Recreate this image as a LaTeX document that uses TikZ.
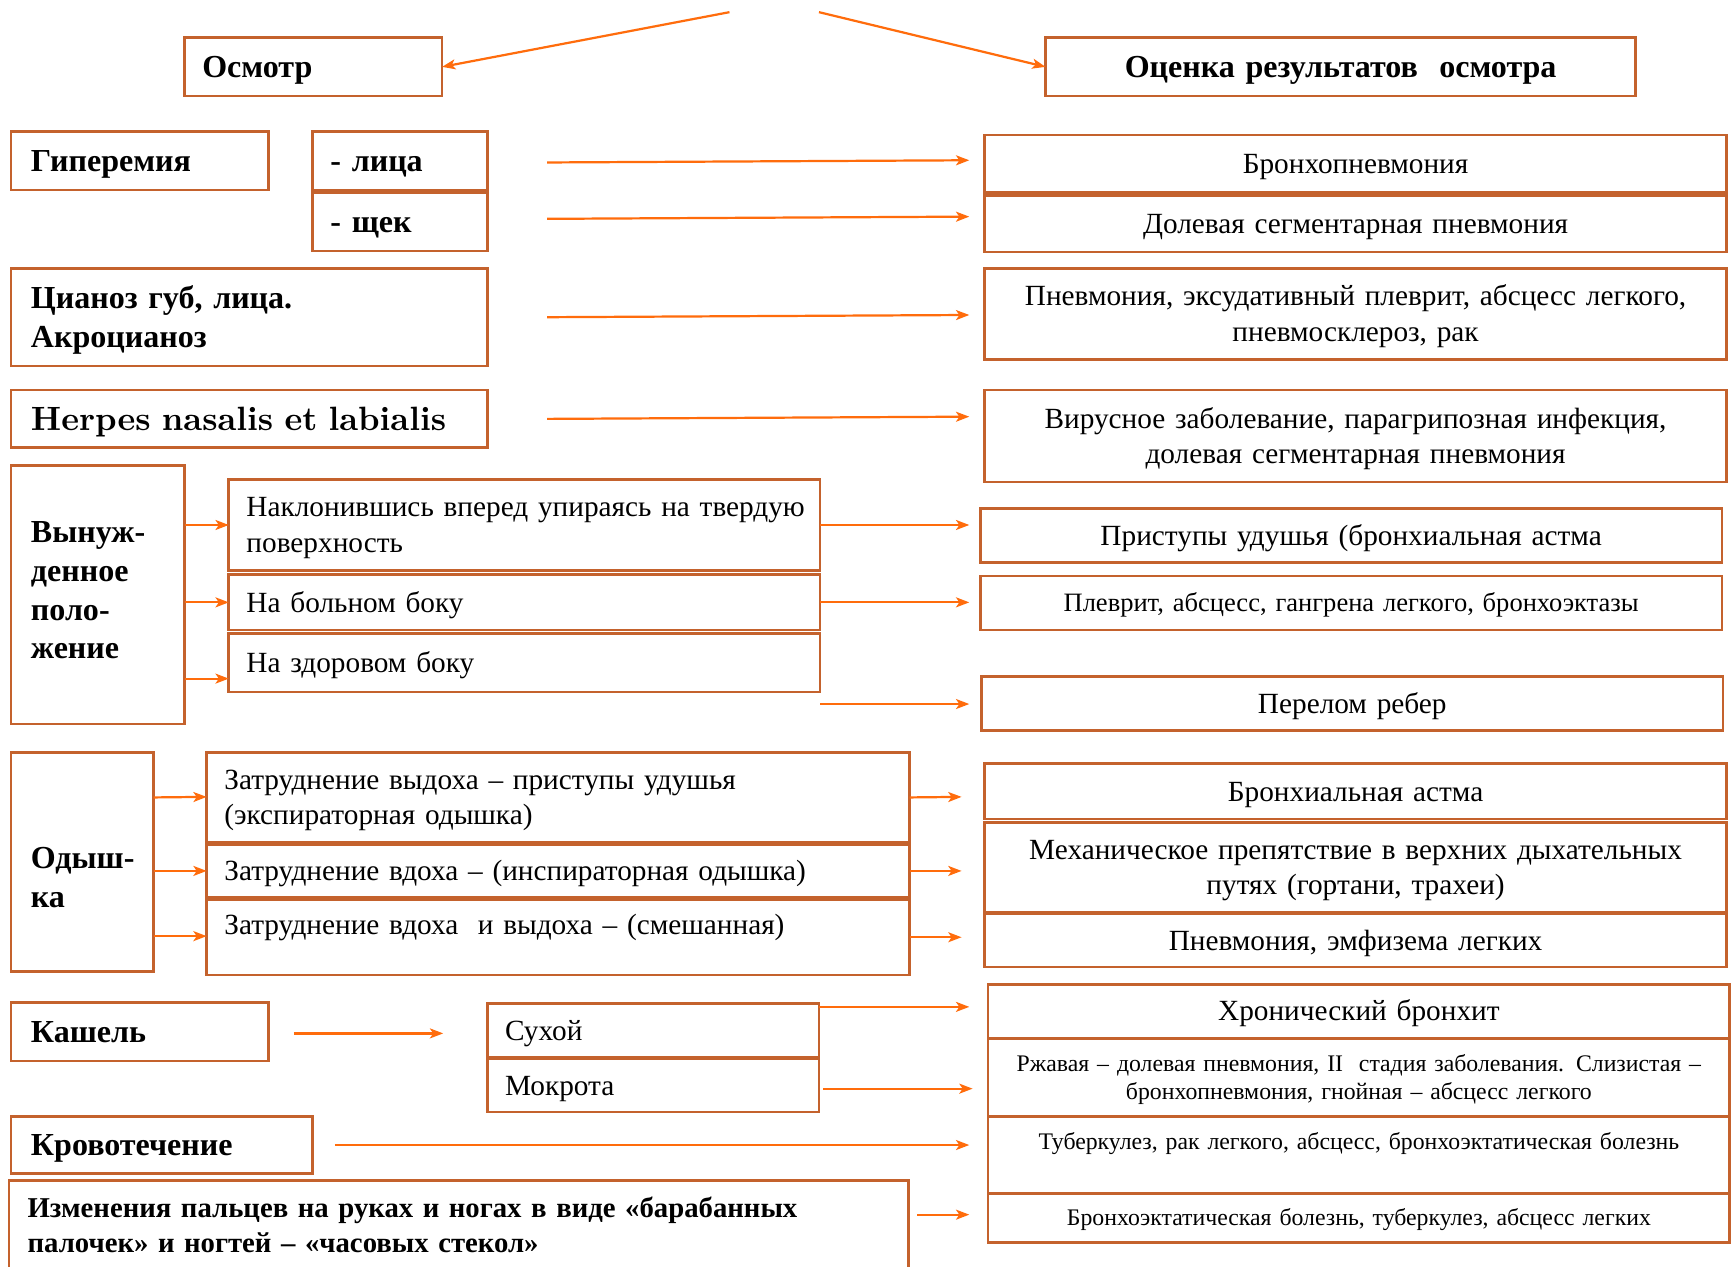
\documentclass[tikz,border=0pt]{standalone}
\usepackage{fontspec}
\newfontfamily\tnr{Liberation Serif}
\newfontfamily\lmbx{lmroman10-bold.otf}
\usetikzlibrary{arrows.meta}
\definecolor{boxc}{RGB}{196,98,45}
\definecolor{arrc}{RGB}{255,108,12}
\newcommand\mystrut{\rule[-0.24em]{0pt}{1.14em}}
\begin{document}
\begin{tikzpicture}[x=1pt,y=-1pt,
  box/.style={draw=boxc, line width=2.4pt, rectangle, inner sep=0pt, outer sep=0pt, fill=white,
    execute at begin node=\mystrut, execute at end node=\mystrut},
  rg/.style={font=\tnr\fontsize{26.5}{32}\selectfont},
  bd/.style={font=\tnr\bfseries\fontsize{29}{35}\selectfont},
  sm/.style={font=\tnr\fontsize{24}{28}\selectfont},
  xs/.style={font=\tnr\fontsize{21.5}{26}\selectfont},
  lt/.style={align=left},
  ct/.style={align=center},
  arr/.style={draw=arrc, line width=2pt, -{Stealth[length=12pt,width=9pt,inset=3pt]}}]
\useasboundingbox[fill=white] (0,0) rectangle (1568,1146);

% top
\coordinate (tl) at (660,11);
\coordinate (tr) at (741,11);
\node[box,bd,lt,text width=201pt,minimum width=233pt,minimum height=53pt] (osm) at (283.5,60.5) {Осмотр};
\node[box,bd,ct,text width=514pt,minimum width=534pt,minimum height=53pt] (ocen) at (1213,60.5) {Оценка результатов\ \ осмотра};
\draw[arr] (tl) -- (osm.east);
\draw[arr] (tr) -- (ocen.west);

% hyperemia
\node[box,bd,lt,text width=197pt,minimum width=233pt,minimum height=53pt] (hyp) at (126.5,145.5) {Гиперемия};
\node[box,bd,lt,text width=126pt,minimum width=158pt,minimum height=53pt] (lica) at (362,145.5) {- лица};
\node[box,bd,lt,text width=126pt,minimum width=158pt,minimum height=53pt] (shchek) at (362,200.5) {- щек};
\node[box,rg,ct,text width=651pt,minimum width=671pt,minimum height=52pt] (r1) at (1226.5,148) {Бронхопневмония};
\node[box,rg,ct,text width=651pt,minimum width=671pt,minimum height=51pt] (r2) at (1226.5,202.5) {Долевая сегментарная пневмония};
\draw[arr] ([shift={(54,1.5)}]lica.east) -- ([shift={(-14,-3)}]r1.west);
\draw[arr] ([shift={(54,-2.5)}]shchek.east) -- ([shift={(-14,-6.5)}]r2.west);

% cyanosis
\node[box,bd,lt,text width=395pt,minimum width=431pt,minimum height=88pt] (cyan) at (225.5,287) {Цианоз губ, лица.\\Акроцианоз};
\node[box,rg,ct,text width=651pt,minimum width=671pt,minimum height=82pt] (r3) at (1226.5,284) {Пневмония, эксудативный плеврит, абсцесс легкого,\\пневмосклероз, рак};
\draw[arr] ([shift={(54,0)}]cyan.east) -- ([shift={(-14,1)}]r3.west);

% herpes
\node[box,lt,font=\lmbx\fontsize{30.5}{32}\selectfont,text width=395pt,minimum width=431pt,minimum height=52pt] (herp) at (225.5,379) {Herpes nasalis et labialis};
\node[box,rg,ct,text width=651pt,minimum width=671pt,minimum height=83pt] (r4) at (1226.5,394.5) {Вирусное заболевание, парагрипозная инфекция,\\долевая сегментарная пневмония};
\draw[arr] ([shift={(54,0)}]herp.east) -- ([shift={(-14,-17.5)}]r4.west);

% forced position
\node[box,bd,lt,text width=121pt,minimum width=157pt,minimum height=234pt,text depth=120pt] (forced) at (88.5,538) {\mbox{Вынуж-}\\\mbox{денное}\\\mbox{поло-}\\\mbox{жение}};
\node[box,rg,lt,text width=503pt,minimum width=535pt,minimum height=82pt] (p1) at (474.5,475) {\mbox{Наклонившись вперед упираясь на твердую}\\поверхность};
\node[box,rg,lt,text width=503pt,minimum width=535pt,minimum height=50pt] (p2) at (474.5,545) {На больном боку};
\node[box,rg,lt,text width=503pt,minimum width=535pt,minimum height=53pt] (p3) at (474.5,599.5) {На здоровом боку};
\node[box,rg,ct,text width=651pt,minimum width=671pt,minimum height=49pt] (r5) at (1222.5,484.5) {Приступы удушья (бронхиальная астма};
\node[box,sm,ct,text width=651pt,minimum width=671pt,minimum height=49pt] (r6) at (1222.5,545.5) {Плеврит, абсцесс, гангрена легкого, бронхоэктазы};
\node[box,rg,ct,text width=651pt,minimum width=671pt,minimum height=49pt] (r7) at (1223.5,636.5) {Перелом ребер};
\draw[arr] ([shift={(0,-63)}]forced.east) -- (p1.west);
\draw[arr] ([shift={(0,7)}]forced.east) -- (p2.west);
\draw[arr] ([shift={(0,76)}]forced.east) -- ([shift={(0,14.5)}]p3.west);
\draw[arr] (p1.east) -- ([shift={(-10,-9.5)}]r5.west);
\draw[arr] (p2.east) -- ([shift={(-10,-0.5)}]r6.west);
\draw[arr] ([shift={(0,37.5)}]p3.east) -- ([shift={(-11,0.5)}]r7.west);

% dyspnea
\node[box,bd,lt,text width=93pt,minimum width=129pt,minimum height=198pt,text height=54pt] (dysp) at (74.5,780) {\mbox{Одыш-}\\\mbox{ка}};
\node[box,rg,lt,text width=604pt,minimum width=636pt,minimum height=81pt] (d1) at (505,721.5) {Затруднение выдоха – приступы удушья\\(экспираторная одышка)};
\node[box,rg,lt,text width=604pt,minimum width=636pt,minimum height=48pt] (d2) at (505,788) {Затруднение вдоха – (инспираторная одышка)};
\node[box,rg,lt,text width=604pt,minimum width=636pt,minimum height=68pt,text depth=28pt] (d3) at (505,848) {Затруднение вдоха\ \ и выдоха – (смешанная)};
\node[box,rg,ct,text width=651pt,minimum width=671pt,minimum height=50pt] (r8) at (1226.5,716) {Бронхиальная астма};
\node[box,rg,ct,text width=651pt,minimum width=671pt,minimum height=81pt] (r9) at (1226.5,784.5) {Механическое препятствие в верхних дыхательных\\путях (гортани, трахеи)};
\node[box,rg,ct,text width=651pt,minimum width=671pt,minimum height=48pt] (r10) at (1226.5,851) {Пневмония, эмфизема легких};
\draw[arr] ([shift={(0,-58.5)}]dysp.east) -- ([shift={(0,-0.5)}]d1.west);
\draw[arr] ([shift={(0,8)}]dysp.east) -- (d2.west);
\draw[arr] ([shift={(0,67)}]dysp.east) -- ([shift={(0,-1)}]d3.west);
\draw[arr] (d1.east) -- ([shift={(-21,5)}]r8.west);
\draw[arr] (d2.east) -- ([shift={(-21,3.5)}]r9.west);
\draw[arr] (d3.east) -- ([shift={(-21,-3)}]r10.west);

% cough
\node[box,bd,lt,text width=197pt,minimum width=233pt,minimum height=53pt] (cough) at (126.5,933.5) {Кашель};
\node[box,rg,lt,text width=268pt,minimum width=300pt,minimum height=49pt] (dry) at (591,932.5) {Сухой};
\node[box,rg,lt,text width=268pt,minimum width=300pt,minimum height=48pt] (sput) at (591,982) {Мокрота};
\node[box,rg,ct,text width=651pt,minimum width=671pt,minimum height=48pt] (r11) at (1229.5,915) {Хронический бронхит};
\node[box,xs,ct,text width=661pt,minimum width=671pt,minimum height=70pt] (r12) at (1229.5,975) {Ржавая – долевая пневмония, II\ \ стадия заболевания. Слизистая –\\бронхопневмония, гнойная – абсцесс легкого};
\node[box,xs,ct,text width=661pt,minimum width=671pt,minimum height=70pt,text depth=29pt] (r13) at (1229.5,1045) {Туберкулез, рак легкого, абсцесс, бронхоэктатическая болезнь};
\node[box,xs,ct,text width=661pt,minimum width=671pt,minimum height=44pt] (r14) at (1229.5,1102) {Бронхоэктатическая болезнь, туберкулез, абсцесс легких};
\draw[arr] ([shift={(23,1.5)}]cough.east) -- ([shift={(-40,2.5)}]dry.west);
\draw[arr] ([shift={(0,-21.5)}]dry.east) -- ([shift={(-17,-4)}]r11.west);
\draw[arr] ([shift={(4,3)}]sput.east) -- ([shift={(-14,10)}]r12.west);

% bleeding
\node[box,bd,lt,text width=237pt,minimum width=273pt,minimum height=52pt] (bleed) at (146.5,1036) {Кровотечение};
\draw[arr] ([shift={(20,0)}]bleed.east) -- ([shift={(-17,-9)}]r13.west);

% fingers
\node[box,lt,font=\tnr\bfseries\fontsize{26}{32}\selectfont,text width=780pt,minimum width=814pt,minimum height=82pt] (fing) at (415,1109) {Изменения пальцев на руках и ногах в виде «барабанных\\палочек» и ногтей – «часовых стекол»};
\draw[arr] ([shift={(8,-10)}]fing.east) -- ([shift={(-17,-3)}]r14.west);
\end{tikzpicture}
\end{document}
